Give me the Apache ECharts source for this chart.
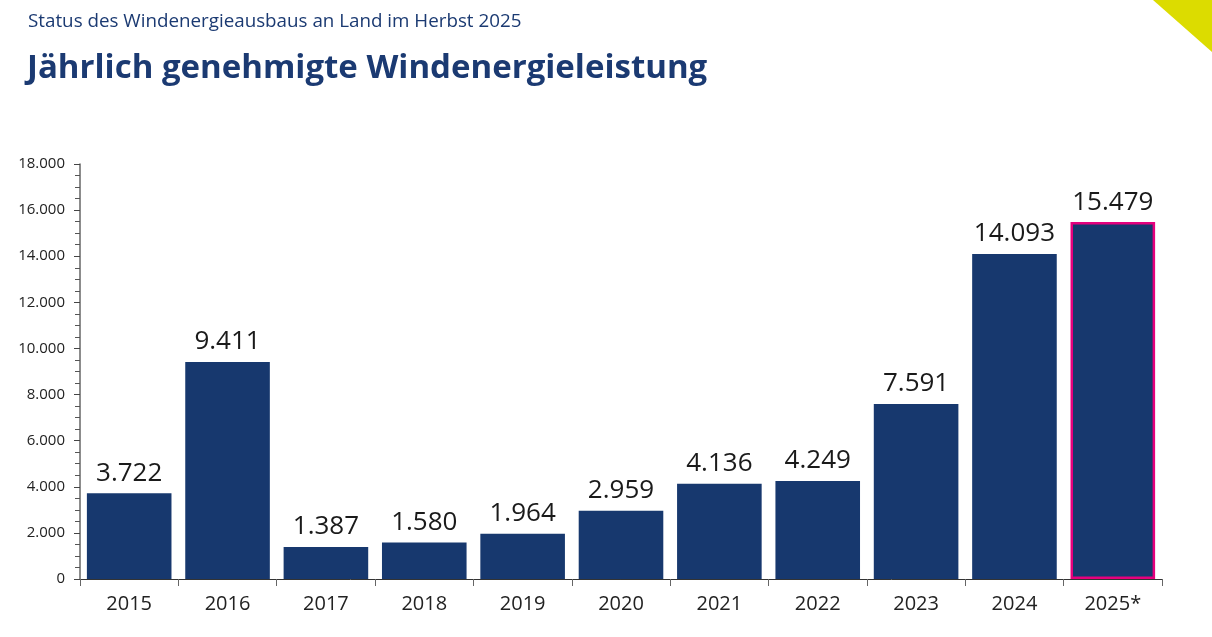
<!DOCTYPE html>
<html>
<head>
<meta charset="utf-8">
<script src="https://cdn.jsdelivr.net/npm/echarts@6/dist/echarts.min.js"></script>
<style>html,body{margin:0;padding:0;background:#fff;}#c{width:1212px;height:637px;}</style>
</head>
<body>
<div id="c"></div>
<script>
const categories = ['2015','2016','2017','2018','2019','2020','2021','2022','2023','2024','2025*'];
const values = [3722, 9411, 1387, 1580, 1964, 2959, 4136, 4249, 7591, 14093, 15479];
const subtitle = 'Status des Windenergieausbaus an Land im Herbst 2025';
const title = 'Jährlich genehmigte Windenergieleistung';

function de(v){ return String(v).replace(/\B(?=(\d{3})+(?!\d))/g, '.'); }

const chart = echarts.init(document.getElementById('c'));
chart.setOption({
  animation: false,
  textStyle: { fontFamily: 'Open Sans' },
  graphic: [
    { type: 'polygon', shape: { points: [[1153,0],[1212,0],[1212,52]] }, style: { fill: '#dcdc00' } },
    { type: 'text', left: 28, top: 12, style: { text: subtitle, fill: '#1b3a72', font: '18.8px "Open Sans"' } },
    { type: 'text', left: 27, top: 52, style: { text: title, fill: '#1b3a72', font: 'bold 33px "Open Sans"' } }
  ],
  grid: { left: 80, right: 50, top: 164, bottom: 58 },
  xAxis: {
    type: 'category',
    data: categories,
    axisLine: { lineStyle: { color: '#333', width: 1 } },
    axisTick: { show: true, length: 7, lineStyle: { color: '#666' } },
    axisLabel: { color: '#222', fontSize: 20, margin: 15 }
  },
  yAxis: {
    type: 'value',
    min: 0, max: 18000, interval: 2000,
    axisLine: { show: true, lineStyle: { color: '#666', width: 1.5 } },
    axisTick: { show: true, length: 6, lineStyle: { color: '#444' } },
    minorTick: { show: true, splitNumber: 4, length: 5, lineStyle: { color: '#555' } },
    splitLine: { show: false },
    axisLabel: { color: '#222', fontSize: 15, margin: 15, formatter: v => de(v) }
  },
  series: [{
    type: 'bar',
    data: values.map((v, i) => i === values.length - 1
      ? { value: v, itemStyle: { color: '#17386e', borderColor: '#e5007d', borderWidth: 2.5 } }
      : { value: v }),
    barCategoryGap: '14%',
    itemStyle: { color: '#17386e' },
    label: { show: true, position: 'top', distance: 7, color: '#1a1a1a', fontSize: 26, formatter: p => de(p.value) }
  }]
});
</script>
</body>
</html>
